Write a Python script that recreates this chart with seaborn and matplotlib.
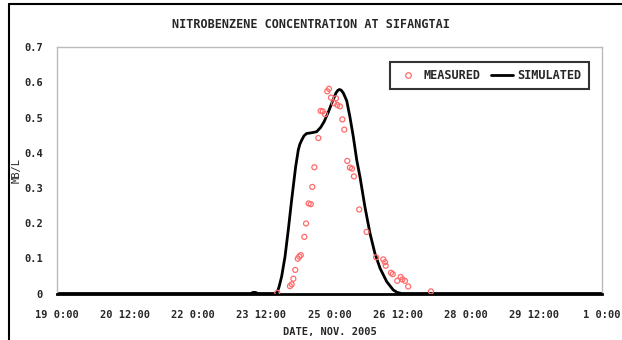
"""
Nitrobenzene concentration at Sifangtai - measured vs simulated
"""
import pandas as pd
import matplotlib
matplotlib.use("Agg")
import matplotlib.pyplot as plt
import matplotlib.dates as mdates
from matplotlib.lines import Line2D
from matplotlib.ticker import FuncFormatter
import seaborn as sns

# Data (hours after 19 Nov 2005 0:00, concentration in mg/L)
measured_hours = [116.4, 123.1, 124.0, 124.9, 125.9, 127.2, 128.0, 128.8, 130.7, 131.6,
                  133.0, 134.1, 134.9, 136.0, 138.1, 139.3, 140.4, 141.6, 142.8, 143.7,
                  144.8, 146.4, 147.4, 148.1, 149.5, 150.8, 151.8, 153.4, 154.8, 155.9,
                  156.9, 159.7, 163.6, 168.6, 172.4, 173.3, 173.7, 176.5, 177.4, 179.8,
                  181.6, 182.5, 183.9, 185.6, 197.6]
measured_conc = [0.002, 0.021, 0.026, 0.042, 0.067, 0.099, 0.105, 0.109, 0.161, 0.199,
                 0.256, 0.254, 0.303, 0.359, 0.442, 0.519, 0.518, 0.510, 0.575, 0.582,
                 0.557, 0.541, 0.555, 0.536, 0.532, 0.495, 0.466, 0.377, 0.358, 0.355,
                 0.333, 0.239, 0.175, 0.103, 0.097, 0.089, 0.079, 0.059, 0.055, 0.036,
                 0.047, 0.040, 0.036, 0.020, 0.006]

sim_hours = [0, 102.5, 103.5, 105.0, 106.0, 116.1, 117.3, 118.7, 120.5, 122.2, 124.0,
             126.1, 127.5, 128.3, 129.3, 130.5, 131.9, 134.6, 137.2, 139.3, 141.1,
             143.4, 145.7, 147.4, 148.3, 149.2, 150.2, 151.3, 153.1, 154.8, 156.6,
             158.4, 160.1, 162.7, 165.4, 168.0, 170.7, 174.2, 177.7, 179.8, 182.1, 288]
sim_conc = [0, 0, 0.003, 0.003, 0, 0, 0.018, 0.048, 0.105, 0.180, 0.266,
            0.360, 0.408, 0.424, 0.436, 0.448, 0.455, 0.457, 0.460, 0.472, 0.488,
            0.516, 0.548, 0.570, 0.577, 0.580, 0.578, 0.570, 0.548, 0.502, 0.445,
            0.379, 0.332, 0.247, 0.171, 0.114, 0.072, 0.034, 0.010, 0.003, 0.0, 0]

y_ticks = [0, 0.1, 0.2, 0.3, 0.4, 0.5, 0.6, 0.7]
y_labels = ["0", "0.1", "0.2", "0.3", "0.4", "0.5", "0.6", "0.7"]

START = pd.Timestamp("2005-11-19 00:00")
END = pd.Timestamp("2005-12-01 00:00")

measured = pd.DataFrame({
    "time": START + pd.to_timedelta(measured_hours, unit="h"),
    "conc": measured_conc,
})
simulated = pd.DataFrame({
    "time": START + pd.to_timedelta(sim_hours, unit="h"),
    "conc": sim_conc,
})

sns.set_style("white")
plt.rcParams["font.family"] = ["DejaVu Sans Mono", "DejaVu Sans"]
plt.rcParams["font.weight"] = "bold"

fig = plt.figure(figsize=(6.22, 3.40), dpi=100)
ax = fig.add_axes([57 / 622, 1 - 293.5 / 340, (602 - 57) / 622, (293.5 - 47.3) / 340])

red = "#ff6b6b"
sns.scatterplot(data=measured, x="time", y="conc", ax=ax, marker="o", s=13,
                facecolors="none", edgecolor=red, linewidth=0.9, zorder=3)
sns.lineplot(data=simulated, x="time", y="conc", ax=ax, color="black",
             linewidth=2.0, zorder=2, solid_joinstyle="round", solid_capstyle="round")

ax.set_xlim(START, END)
ax.set_ylim(0, 0.7)
ax.set_yticks(y_ticks)
ax.set_yticklabels(y_labels)
ax.set_xticks(pd.date_range(START, END, freq="36h"))


def fmt_date(x, pos):
    d = mdates.num2date(x)
    return f"{d.day} {d.hour}:{d.minute:02d}"


ax.xaxis.set_major_formatter(FuncFormatter(fmt_date))
ax.tick_params(axis="both", direction="in", length=3, color="#999999",
               labelsize=7.5)
ax.tick_params(axis="x", pad=12)
ax.tick_params(axis="y", pad=10)

for side in ["top", "right", "left"]:
    ax.spines[side].set_color("#bbbbbb")
    ax.spines[side].set_linewidth(1.0)
ax.spines["bottom"].set_color("black")
ax.spines["bottom"].set_linewidth(2.0)

ax.set_xlabel("")
ax.set_ylabel("MB/L", fontsize=7.5, labelpad=2)
fig.text(330 / 622, 1 - 332 / 340, "DATE, NOV. 2005", ha="center", va="center",
         fontsize=7.5)

handles = [
    Line2D([], [], marker="o", linestyle="none", markersize=4,
           markerfacecolor="none", markeredgecolor=red, markeredgewidth=0.9),
    Line2D([], [], color="black", linewidth=2.0),
]
leg = ax.legend(handles, ["MEASURED", "SIMULATED"], ncol=2, loc="upper right",
                bbox_to_anchor=(0.976, 0.94), borderaxespad=0, fontsize=8.6,
                frameon=True, fancybox=False, handlelength=1.8, handletextpad=0.4,
                columnspacing=0.9, borderpad=0.6)
leg.get_frame().set_edgecolor("black")
leg.get_frame().set_linewidth(1.5)

fig.text(311 / 622, 1 - 24 / 340, "NITROBENZENE CONCENTRATION AT SIFANGTAI",
         ha="center", va="center", fontsize=8.5)

# outer chart frame (left and top edges visible)
fig.add_artist(Line2D([9 / 622, 9 / 622], [0, 1 - 4 / 340], color="black",
                      linewidth=1.5, transform=fig.transFigure))
fig.add_artist(Line2D([9 / 622, 1], [1 - 4 / 340, 1 - 4 / 340], color="black",
                      linewidth=1.5, transform=fig.transFigure))

plt.savefig("out.png", dpi=100)
plt.close("all")
